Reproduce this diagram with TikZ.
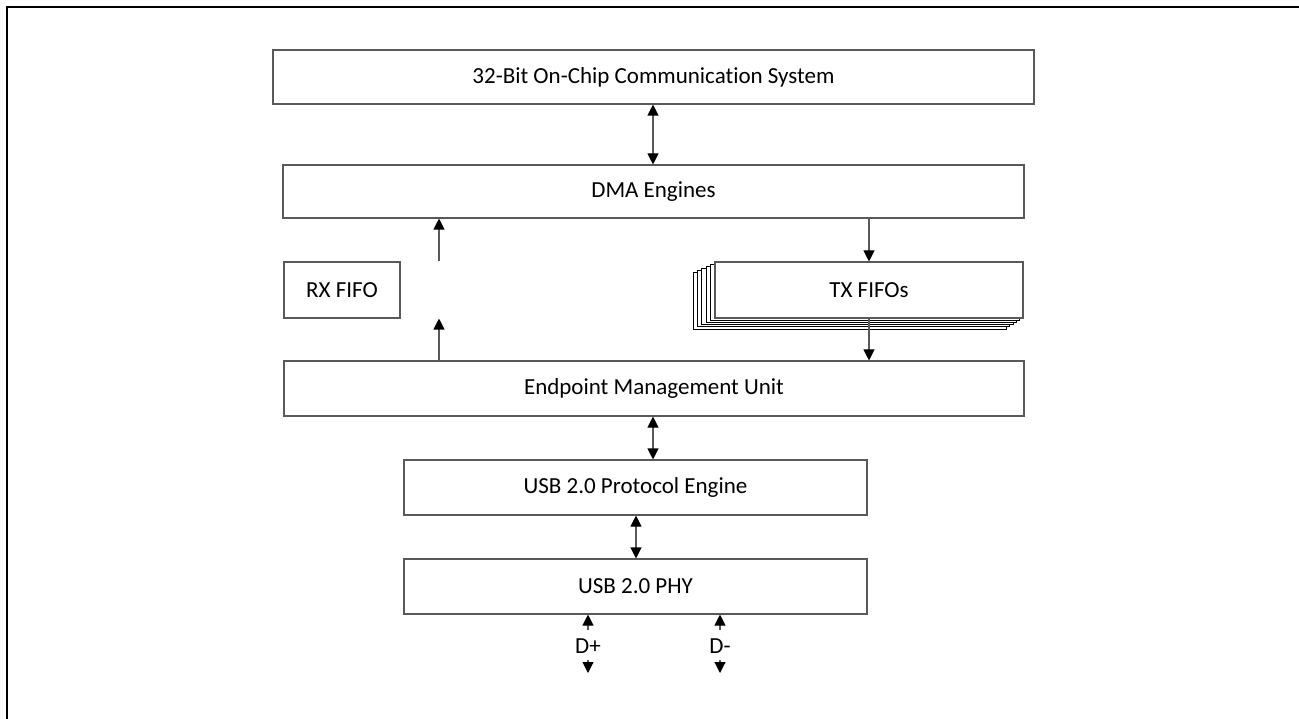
\documentclass[tikz,border=0pt]{standalone}
\usepackage{fontspec}
\setmainfont{Carlito}[Ligatures=NoCommon]
\usetikzlibrary{arrows.meta}
\tikzset{
  blk/.style={draw=black!65, line width=1.1pt, fill=white, inner sep=0pt, font=\fontsize{23}{27}\selectfont},
  arr/.style={draw=black!65, line width=1.1pt, -{Triangle[width=11pt,length=11pt,color=black]}},
  darr/.style={draw=black!65, line width=1.1pt, {Triangle[width=11pt,length=11pt,color=black]}-{Triangle[width=11pt,length=11pt,color=black]}},
  lbl/.style={inner sep=0pt, font=\fontsize{23}{27}\selectfont},
  layer/.style={draw=black, line width=0.9pt, fill=white}
}
\begin{document}
\begin{tikzpicture}[x=1pt,y=-1pt]
\useasboundingbox (0,0) rectangle (1299,719);
\fill[white] (0,0) rectangle (1299,719);
% outer frame (cut off on right and bottom)
\draw[line width=2.5pt] (7,719) -- (7,7) -- (1299,7);

\node[blk, minimum width=761pt, minimum height=54pt] (ocs) at (653.5,77) {32-Bit On-Chip Communication System};
\node[blk, minimum width=741pt, minimum height=53pt] (dma) at (653.5,191.5) {DMA Engines};
\node[blk, minimum width=116pt, minimum height=56pt] (rx) at (342,290) {RX FIFO};
% TX FIFO stack
\foreach \k in {5,4,3,2,1}{
  \draw[layer] ({715-4.4*\k},{262+2*\k}) rectangle ({1023-3.3*\k},{318+2.2*\k});
}
\node[blk, minimum width=308pt, minimum height=56pt] (tx) at (869,290) {TX FIFOs};
\node[blk, minimum width=740pt, minimum height=55pt] (emu) at (654,388.5) {Endpoint Management Unit};
\node[blk, minimum width=463pt, minimum height=55pt] (pe) at (635.5,487.5) {USB 2.0 Protocol Engine};
\node[blk, minimum width=463pt, minimum height=55pt] (phy) at (635.5,586.5) {USB 2.0 PHY};

\draw[darr] (ocs.south -| 653,0) -- (dma.north -| 653,0);
\draw[arr] (rx.north -| 439,0) -- (dma.south -| 439,0);
\draw[arr] (emu.north -| 439,0) -- (rx.south -| 439,0);
\draw[arr] (dma.south -| 869,0) -- (tx.north -| 869,0);
\draw[arr] (tx.south -| 869,0) -- (emu.north -| 869,0);
\draw[darr] (emu.south -| 653,0) -- (pe.north -| 653,0);
\draw[darr] (pe.south -| 636,0) -- (phy.north -| 636,0);

% D+ and D-
\coordinate (dpa) at (588,630);
\coordinate (dpb) at (588,660);
\coordinate (dpc) at (588,673);
\coordinate (dma1) at (720,630);
\coordinate (dmb) at (720,660);
\coordinate (dmc) at (720,673);
\draw[arr] (dpa) -- (phy.south -| dpa);
\node[lbl] (dplbl) at (588,646) {D+};
\draw[arr] (dpb) -- (dpc);
\draw[arr] (dma1) -- (phy.south -| dma1);
\node[lbl] (dmlbl) at (720,646) {D-};
\draw[arr] (dmb) -- (dmc);
\end{tikzpicture}
\end{document}
